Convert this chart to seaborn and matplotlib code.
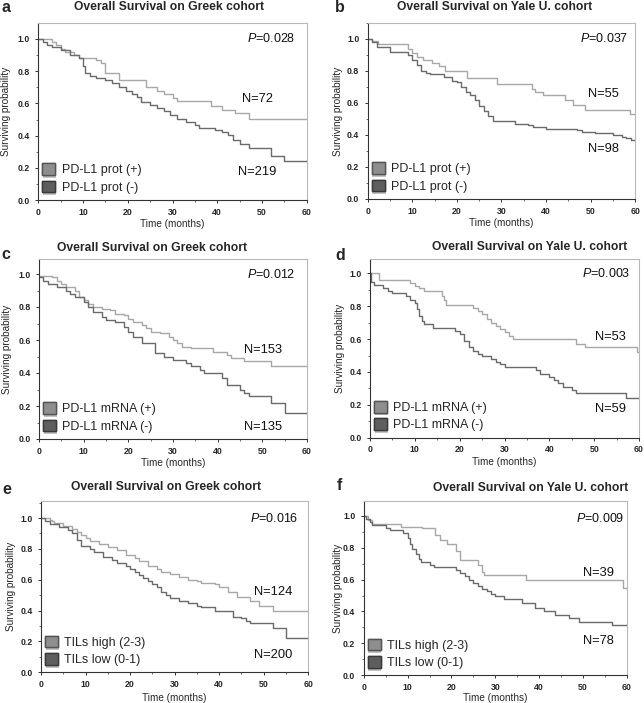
import numpy as np
import pandas as pd
import matplotlib
matplotlib.use("Agg")
import matplotlib.pyplot as plt
import matplotlib.patheffects as pe
from matplotlib.patches import Patch
from matplotlib.ticker import MultipleLocator, FormatStrFormatter
import seaborn as sns

sns.set_style("ticks")
plt.rcParams['font.family'] = ['Liberation Sans', 'DejaVu Sans']
plt.rcParams['mathtext.fontset'] = 'custom'
plt.rcParams['mathtext.it'] = 'Liberation Sans:italic'
plt.rcParams['mathtext.rm'] = 'Liberation Sans'

# ---------------- data ----------------
# Panel a: PD-L1 protein, Greek cohort
a_pos_t = [0, 3, 4, 5, 6, 8, 9, 13, 14, 15, 18, 24, 26.5, 28, 30, 31, 38.5, 41, 44, 47, 60]
a_pos_s = [1.0, 0.98, 0.96, 0.94, 0.92, 0.90, 0.885, 0.87, 0.85, 0.79, 0.745, 0.70, 0.68, 0.66, 0.635, 0.615, 0.585, 0.56, 0.54, 0.505, 0.505]
a_neg_t = [0, 1, 2, 3, 5, 7, 9, 10, 10.5, 11.5, 13, 15, 16.5, 18, 19.5, 21, 22, 23, 25, 26.5, 28, 29.5, 31, 33, 35, 36, 39.5, 41, 42.5, 43.5, 45, 47, 52, 55, 60]
a_neg_s = [1.0, 0.98, 0.96, 0.95, 0.93, 0.90, 0.88, 0.83, 0.79, 0.77, 0.76, 0.745, 0.725, 0.70, 0.68, 0.66, 0.64, 0.61, 0.59, 0.57, 0.55, 0.53, 0.505, 0.485, 0.465, 0.45, 0.435, 0.42, 0.405, 0.37, 0.35, 0.32, 0.275, 0.24, 0.24]

# Panel b: PD-L1 protein, Yale cohort
b_pos_t = [0, 1, 2.4, 9, 10, 11, 12.5, 14.5, 16, 17.3, 22.2, 29, 36.8, 37.5, 39.4, 44.3, 46.1, 48.8, 58.9, 60]
b_pos_s = [1.0, 0.99, 0.97, 0.94, 0.91, 0.89, 0.87, 0.85, 0.83, 0.80, 0.755, 0.72, 0.69, 0.67, 0.65, 0.62, 0.585, 0.555, 0.53, 0.53]
b_neg_t = [0, 1, 2, 5, 9, 10, 11, 12, 13, 14, 17, 19, 20, 21, 22, 23, 24, 25, 26, 27, 28, 33, 36, 37, 40, 47, 48, 51, 55, 57, 58, 59, 60]
b_neg_s = [1.0, 0.98, 0.95, 0.92, 0.90, 0.87, 0.84, 0.80, 0.79, 0.78, 0.76, 0.74, 0.73, 0.70, 0.67, 0.65, 0.62, 0.58, 0.55, 0.52, 0.49, 0.47, 0.46, 0.45, 0.44, 0.43, 0.42, 0.41, 0.40, 0.39, 0.38, 0.37, 0.37]

# Panel c: PD-L1 mRNA, Greek cohort
c_pos_t = [0, 3, 4, 5, 6, 8, 9, 10, 11, 12, 14, 16, 17, 19, 20, 21, 23, 24, 25, 27, 29, 30, 31, 32, 34, 39, 42, 43, 46, 52, 60]
c_pos_s = [0.99, 0.98, 0.96, 0.94, 0.92, 0.90, 0.86, 0.84, 0.82, 0.80, 0.79, 0.78, 0.76, 0.75, 0.73, 0.71, 0.69, 0.67, 0.65, 0.64, 0.62, 0.60, 0.58, 0.56, 0.55, 0.53, 0.51, 0.49, 0.47, 0.44, 0.44]
c_neg_t = [0, 1, 2, 4, 6, 7, 8, 10, 11, 12, 14, 15, 17, 19, 20, 21, 23, 26, 28, 30, 33, 34, 36, 37, 41, 42, 45, 46, 47, 52, 55, 60]
c_neg_s = [0.98, 0.96, 0.94, 0.92, 0.90, 0.88, 0.86, 0.83, 0.80, 0.77, 0.74, 0.72, 0.71, 0.68, 0.65, 0.62, 0.58, 0.52, 0.50, 0.48, 0.46, 0.44, 0.42, 0.40, 0.37, 0.33, 0.30, 0.28, 0.26, 0.22, 0.16, 0.16]

# Panel d: PD-L1 mRNA, Yale cohort
d_pos_t = [0, 2, 9, 10, 11, 12, 16, 16.5, 17, 23, 24, 25, 26, 27, 28, 29, 30, 31, 32, 46, 48, 59.5, 60]
d_pos_s = [1.0, 0.96, 0.94, 0.92, 0.91, 0.89, 0.86, 0.84, 0.81, 0.79, 0.77, 0.75, 0.72, 0.70, 0.68, 0.66, 0.64, 0.62, 0.60, 0.57, 0.55, 0.52, 0.52]
d_neg_t = [0, 0.3, 1, 3, 4, 5, 8, 9, 10, 10.5, 11, 11.5, 12, 14, 19, 20, 21, 22, 23, 24, 25, 27, 28, 29, 30, 37, 38, 40, 41, 42, 43, 45, 46, 57, 60]
d_neg_s = [1.0, 0.95, 0.93, 0.91, 0.89, 0.88, 0.86, 0.84, 0.82, 0.78, 0.74, 0.71, 0.69, 0.67, 0.65, 0.63, 0.59, 0.55, 0.53, 0.51, 0.50, 0.48, 0.46, 0.45, 0.43, 0.41, 0.39, 0.37, 0.35, 0.33, 0.31, 0.29, 0.27, 0.24, 0.24]

# Panel e: TILs, Greek cohort
e_pos_t = [0, 2, 2.5, 3, 5, 7, 8, 9, 10, 11, 13, 15, 17, 19, 21, 22, 24, 26, 27, 29, 31, 33, 35, 36, 39, 40, 42, 44, 47, 49, 52, 60]
e_pos_s = [1.0, 0.99, 0.98, 0.97, 0.95, 0.93, 0.91, 0.89, 0.87, 0.85, 0.83, 0.81, 0.79, 0.76, 0.74, 0.72, 0.69, 0.67, 0.65, 0.64, 0.62, 0.60, 0.59, 0.58, 0.57, 0.55, 0.52, 0.49, 0.46, 0.43, 0.40, 0.40]
e_neg_t = [0, 1, 2, 4, 6, 7, 8, 9, 11, 12, 14, 16, 17, 19, 20, 21, 22, 23, 24, 25, 26, 27, 28, 29, 31, 33, 35, 36, 39, 43, 45, 46, 47, 52, 55, 60]
e_neg_s = [1.0, 0.98, 0.96, 0.94, 0.92, 0.90, 0.86, 0.82, 0.80, 0.78, 0.75, 0.73, 0.71, 0.69, 0.67, 0.65, 0.63, 0.61, 0.59, 0.57, 0.55, 0.52, 0.50, 0.48, 0.46, 0.45, 0.43, 0.42, 0.40, 0.36, 0.35, 0.33, 0.32, 0.29, 0.22, 0.22]

# Panel f: TILs, Yale cohort
f_pos_t = [0, 1, 2, 8.4, 13.3, 16.3, 17.5, 19, 21, 22, 26, 27, 27.5, 37, 59, 60]
f_pos_s = [1.0, 0.97, 0.95, 0.93, 0.92, 0.88, 0.85, 0.82, 0.78, 0.72, 0.69, 0.65, 0.63, 0.60, 0.55, 0.55]
f_neg_t = [0, 0.5, 1.5, 2, 5, 6, 9, 10, 10.5, 11, 12, 12.5, 13, 15, 16, 21, 22, 23, 24, 25, 26, 27, 28, 29, 30, 32, 36, 39, 41, 43.7, 46.7, 49, 56.6, 60]
f_neg_s = [1.0, 0.98, 0.96, 0.94, 0.92, 0.91, 0.89, 0.86, 0.82, 0.79, 0.76, 0.73, 0.71, 0.69, 0.68, 0.66, 0.64, 0.62, 0.60, 0.58, 0.56, 0.54, 0.53, 0.51, 0.50, 0.48, 0.45, 0.42, 0.40, 0.38, 0.36, 0.335, 0.315, 0.315]

panel_letters = ['a', 'b', 'c', 'd', 'e', 'f']
titles = ['Overall Survival on Greek cohort', 'Overall Survival on Yale U. cohort'] * 3
p_values = ['0.028', '0.037', '0.012', '0.003', '0.016', '0.009']
n_pos = ['N=72', 'N=55', 'N=153', 'N=53', 'N=124', 'N=39']
n_neg = ['N=219', 'N=98', 'N=135', 'N=59', 'N=200', 'N=78']
labels_pos = ['PD-L1 prot (+)', 'PD-L1 prot (+)', 'PD-L1 mRNA (+)', 'PD-L1 mRNA (+)', 'TILs high (2-3)', 'TILs high (2-3)']
labels_neg = ['PD-L1 prot (-)', 'PD-L1 prot (-)', 'PD-L1 mRNA (-)', 'PD-L1 mRNA (-)', 'TILs low (0-1)', 'TILs low (0-1)']
curves = [(a_pos_t, a_pos_s, a_neg_t, a_neg_s), (b_pos_t, b_pos_s, b_neg_t, b_neg_s),
          (c_pos_t, c_pos_s, c_neg_t, c_neg_s), (d_pos_t, d_pos_s, d_neg_t, d_neg_s),
          (e_pos_t, e_pos_s, e_neg_t, e_neg_s), (f_pos_t, f_pos_s, f_neg_t, f_neg_s)]

# ---------------- layout (pixels) ----------------
W, H = 644, 703
# left px, right px, y px of 1.0, y px of 0.0, y-top limit
axes_px = [(38.3, 306.7, 39.0, 200.0, 1.097),
           (367.7, 635.3, 39.0, 199.0, 1.10),
           (39.0, 307.0, 274.0, 439.0, 1.09),
           (370.0, 639.0, 273.3, 437.7, 1.085),
           (41.0, 308.3, 518.0, 672.3, 1.108),
           (363.7, 627.0, 515.7, 675.3, 1.09)]
title_px = [(169, 6.5), (494.5, 6.5), (152, 248), (529.5, 247), (166, 487.5), (530.5, 488)]
letter_px = [(6, 7), (340, 8), (6, 254), (340, 255), (7, 489), (339, 486)]
ylab_off = [27, 25, 26.5, 25, 25, 21]      # px from axes left to label anchor
xlab_off = [18.5, 19, 19, 19, 21, 17.5]    # px from axes bottom to label top
p_pos = [57.4, 58.5, 57.4, 58.1, 57.8, 59.3]
p_y = [1.0, 1.0, 1.0, 1.0, 1.0, 0.985]
npos_xy = [(49.1, 0.627), (52.9, 0.655), (50.2, 0.54), (53.7, 0.614), (52.1, 0.52), (53.4, 0.64)]
nneg_xy = [(48.9, 0.176), (52.9, 0.312), (50.2, 0.075), (53.7, 0.173), (52.1, 0.114), (53.4, 0.213)]

c_pos_line = '#a8a8a8'
c_neg_line = '#6a6a6a'
c_pos_box = '#8e8e8e'
c_neg_box = '#5e5e5e'

fig = plt.figure(figsize=(W / 100, H / 100), dpi=100)

for i in range(6):
    lpx, rpx, y1, y0, ytop = axes_px[i]
    unit = y0 - y1
    top_px = y0 - ytop * unit
    rect = [lpx / W, 1 - y0 / H, (rpx - lpx) / W, (y0 - top_px) / H]
    ax = fig.add_axes(rect)
    pt, ps, nt, ns = curves[i]
    df = pd.concat([
        pd.DataFrame({'time': pt, 'surv': ps, 'group': labels_pos[i]}),
        pd.DataFrame({'time': nt, 'surv': ns, 'group': labels_neg[i]}),
    ], ignore_index=True)
    sns.lineplot(data=df, x='time', y='surv', hue='group',
                 palette={labels_pos[i]: c_pos_line, labels_neg[i]: c_neg_line},
                 drawstyle='steps-post', estimator=None, sort=True,
                 legend=False, linewidth=1.0, ax=ax)
    ax.set_xlim(0, 60)
    ax.set_ylim(0, ytop)
    ax.xaxis.set_major_locator(MultipleLocator(10))
    ax.xaxis.set_minor_locator(MultipleLocator(5))
    ax.yaxis.set_minor_locator(MultipleLocator(0.1))
    ax.set_yticks([0, 0.2, 0.4, 0.6, 0.8, 1.0])
    ax.yaxis.set_major_formatter(FormatStrFormatter('%.1f'))
    ax.tick_params(axis='both', which='major', labelsize=6.3, length=2.5, width=0.7,
                   color='#333333')
    ax.tick_params(axis='y', which='major', pad=3.5)
    ax.tick_params(axis='x', which='major', pad=3.0)
    ax.tick_params(axis='both', which='minor', length=1.5, width=0.6, color='#555555')
    for lab in ax.get_xticklabels() + ax.get_yticklabels():
        lab.set_fontweight('bold')
    for s in ['left', 'bottom']:
        ax.spines[s].set_color('#333333')
        ax.spines[s].set_linewidth(0.8)
    for s in ['top', 'right']:
        ax.spines[s].set_color('#b8b8b8')
        ax.spines[s].set_linewidth(0.8)
    ax_h = y0 - top_px
    ax_w = rpx - lpx
    ax.set_xlabel('Time (months)', fontsize=7.2)
    ax.set_ylabel('Surviving probability', fontsize=7.2)
    ax.xaxis.set_label_coords(0.5, -xlab_off[i] / ax_h)
    ax.yaxis.set_label_coords(-ylab_off[i] / ax_w, 0.5)
    ax.text(p_pos[i], p_y[i], r'$\mathit{P}$=' + p_values[i], ha='right', va='center',
            fontsize=9, color='#111111')
    ax.text(npos_xy[i][0], npos_xy[i][1], n_pos[i], ha='center', va='center',
            fontsize=9.3, color='#111111')
    ax.text(nneg_xy[i][0], nneg_xy[i][1], n_neg[i], ha='center', va='center',
            fontsize=9.3, color='#111111')
    handles = [Patch(facecolor=c_pos_box, edgecolor='#555555', linewidth=1.0),
               Patch(facecolor=c_neg_box, edgecolor='#3a3a3a', linewidth=1.0)]
    leg = ax.legend(handles, [labels_pos[i], labels_neg[i]], loc='lower left',
                    bbox_to_anchor=(0.015, 0.035), frameon=False, fontsize=9,
                    handlelength=1.05, handleheight=1.05, handletextpad=0.5,
                    labelspacing=0.35, borderpad=0, borderaxespad=0)
    for h in leg.legend_handles:
        h.set_path_effects([pe.withSimplePatchShadow(offset=(0.5, -2), shadow_rgbFace='#888888', alpha=0.5),
                            pe.Normal()])
    fig.text(title_px[i][0] / W, 1 - title_px[i][1] / H, titles[i], ha='center', va='center',
             fontsize=8.7, fontweight='bold')
    fig.text(letter_px[i][0] / W, 1 - letter_px[i][1] / H, panel_letters[i], ha='center', va='center',
             fontsize=11.5, fontweight='bold')

fig.savefig('out.png', dpi=100)
